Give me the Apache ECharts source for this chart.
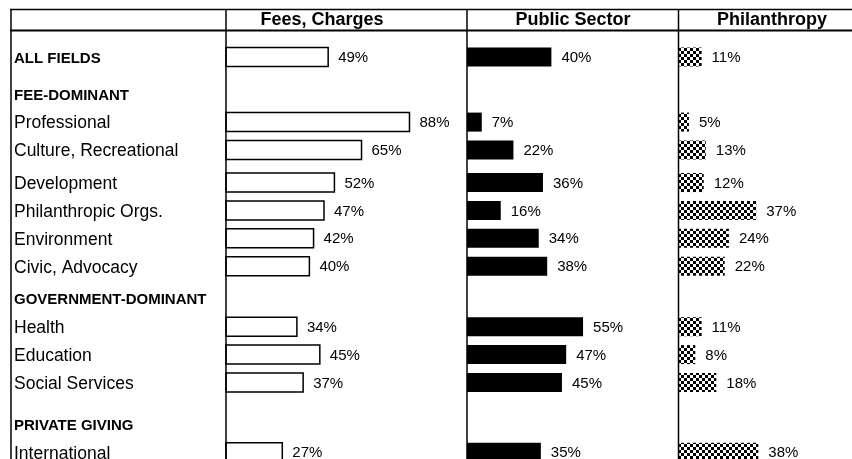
<!DOCTYPE html>
<html>
<head>
<meta charset="utf-8">
<script src="https://cdn.jsdelivr.net/npm/echarts@6/dist/echarts.min.js"></script>
<style>
html, body { margin: 0; padding: 0; background: #fff; }
#chart { width: 852px; height: 459px; }
</style>
</head>
<body>
<div id="chart"></div>
<script>
// rows, top to bottom
const rows = ['ALL FIELDS', 'FEE-DOMINANT', 'Professional', 'Culture, Recreational', 'Development',
  'Philanthropic Orgs.', 'Environment', 'Civic, Advocacy', 'GOVERNMENT-DOMINANT', 'Health',
  'Education', 'Social Services', 'PRIVATE GIVING', 'International']
const groupRows = ['ALL FIELDS', 'FEE-DOMINANT', 'GOVERNMENT-DOMINANT', 'PRIVATE GIVING']
const panels = ['Fees, Charges', 'Public Sector', 'Philanthropy']
// share of revenue, %
const fees = [49, null, 88, 65, 52, 47, 42, 40, null, 34, 45, 37, null, 27]
const publicSector = [40, null, 7, 22, 36, 16, 34, 38, null, 55, 47, 45, null, 35]
const philanthropy = [11, null, 5, 13, 12, 37, 24, 22, null, 11, 8, 18, null, 38]

// layout: space before each row, in sixths of a row
const rowGap = [0, 8, 6, 6, 7, 6, 6, 6, 7, 6, 6, 6, 9, 6]
const slotOf = []
rowGap.reduce((acc, g, i) => { slotOf[i] = acc + g; return acc + g }, 0)
const slotCount = slotOf[slotOf.length - 1] + 1
const slots = Array.from({ length: slotCount }, (_, k) => 's' + k)
const rowAtSlot = {}
slotOf.forEach((s, i) => { rowAtSlot[s] = i })

function toPairs(values) {
  const out = []
  values.forEach((v, i) => { if (v != null) out.push([v, slotOf[i]]) })
  return out
}

const FONT = 'Arial, "Liberation Sans", sans-serif'
const BAR_H = 19

// checker pattern for the philanthropy bars
const pc = document.createElement('canvas')
pc.width = 6
pc.height = 6
const pctx = pc.getContext('2d')
pctx.fillStyle = '#fff'
pctx.fillRect(0, 0, 6, 6)
pctx.fillStyle = '#000'
pctx.fillRect(0, 0, 3, 3)
pctx.fillRect(3, 3, 3, 3)

const chart = echarts.init(document.getElementById('chart'), null, { renderer: 'canvas' })

const slotH = 4.65
const gridTop = 57 - slotH / 2
const gridHeight = slotCount * slotH
const grids = [
  { left: 226, width: 208.5, top: gridTop, height: gridHeight, outerBoundsMode: 'none' },
  { left: 467, width: 211, top: gridTop, height: gridHeight, outerBoundsMode: 'none' },
  { left: 678.5, width: 168, top: gridTop, height: gridHeight, outerBoundsMode: 'none' }
]
const xMax = [100, 100, 80]
const seriesValues = [fees, publicSector, philanthropy]
const barStyles = [
  { fill: '#fff', stroke: '#000', lineWidth: 1.5 },
  { fill: '#000' },
  { fill: { image: pc, repeat: 'repeat' } }
]

const lineStyle = (w) => ({ stroke: '#000', lineWidth: w })

const option = {
  animation: false,
  backgroundColor: '#fff',
  grid: grids,
  xAxis: grids.map((g, i) => ({
    type: 'value', gridIndex: i, min: 0, max: xMax[i], show: false
  })),
  yAxis: grids.map((g, i) => ({
    type: 'category',
    gridIndex: i,
    inverse: true,
    data: slots,
    axisLine: { show: false },
    axisTick: { show: false },
    splitLine: { show: false },
    axisLabel: {
      show: i === 0,
      interval: 0,
      align: 'left',
      margin: 212,
      formatter: (val, idx) => {
        const r = rowAtSlot[idx]
        if (r === undefined) return ''
        const name = rows[r]
        return groupRows.includes(name) ? '{h|' + name + '}' : '{n|' + name + '}'
      },
      rich: {
        h: { fontFamily: FONT, fontSize: 15, fontWeight: 'bold', color: '#000', padding: [3, 0, 0, 0] },
        n: { fontFamily: FONT, fontSize: 17.5, color: '#000', padding: [3, 0, 0, 0] }
      }
    }
  })),
  series: seriesValues.map((vals, i) => ({
    type: 'custom',
    xAxisIndex: i,
    yAxisIndex: i,
    encode: { x: 0, y: 1 },
    data: toPairs(vals),
    renderItem: (params, api) => {
      const v = api.value(0)
      const start = api.coord([0, api.value(1)])
      const end = api.coord([v, api.value(1)])
      return {
        type: 'group',
        children: [
          {
            type: 'rect',
            shape: { x: start[0], y: start[1] - BAR_H / 2, width: end[0] - start[0], height: BAR_H },
            style: barStyles[i]
          },
          {
            type: 'text',
            style: {
              text: v + '%',
              x: end[0] + 10,
              y: start[1] + 1,
              align: 'left',
              verticalAlign: 'middle',
              fontFamily: FONT,
              fontSize: 15,
              fill: '#000'
            }
          }
        ]
      }
    }
  })),
  graphic: [
    { type: 'line', z: 100, shape: { x1: 10, y1: 9.5, x2: 852, y2: 9.5 }, style: lineStyle(1.5) },
    { type: 'line', z: 100, shape: { x1: 10, y1: 30.5, x2: 852, y2: 30.5 }, style: lineStyle(2) },
    { type: 'line', z: 100, shape: { x1: 11, y1: 9, x2: 11, y2: 459 }, style: lineStyle(1.5) },
    { type: 'line', z: 100, shape: { x1: 226, y1: 9, x2: 226, y2: 459 }, style: lineStyle(1.5) },
    { type: 'line', z: 100, shape: { x1: 467, y1: 9, x2: 467, y2: 459 }, style: lineStyle(1.5) },
    { type: 'line', z: 100, shape: { x1: 678.5, y1: 9, x2: 678.5, y2: 459 }, style: lineStyle(1.5) }
  ].concat(panels.map((p, i) => ({
    type: 'text',
    z: 100,
    style: {
      text: p,
      x: [322, 573, 772][i],
      y: 20.5,
      align: 'center',
      verticalAlign: 'middle',
      fontFamily: FONT,
      fontSize: 18,
      fontWeight: 'bold',
      fill: '#000'
    }
  })))
}

chart.setOption(option)
</script>
</body>
</html>
